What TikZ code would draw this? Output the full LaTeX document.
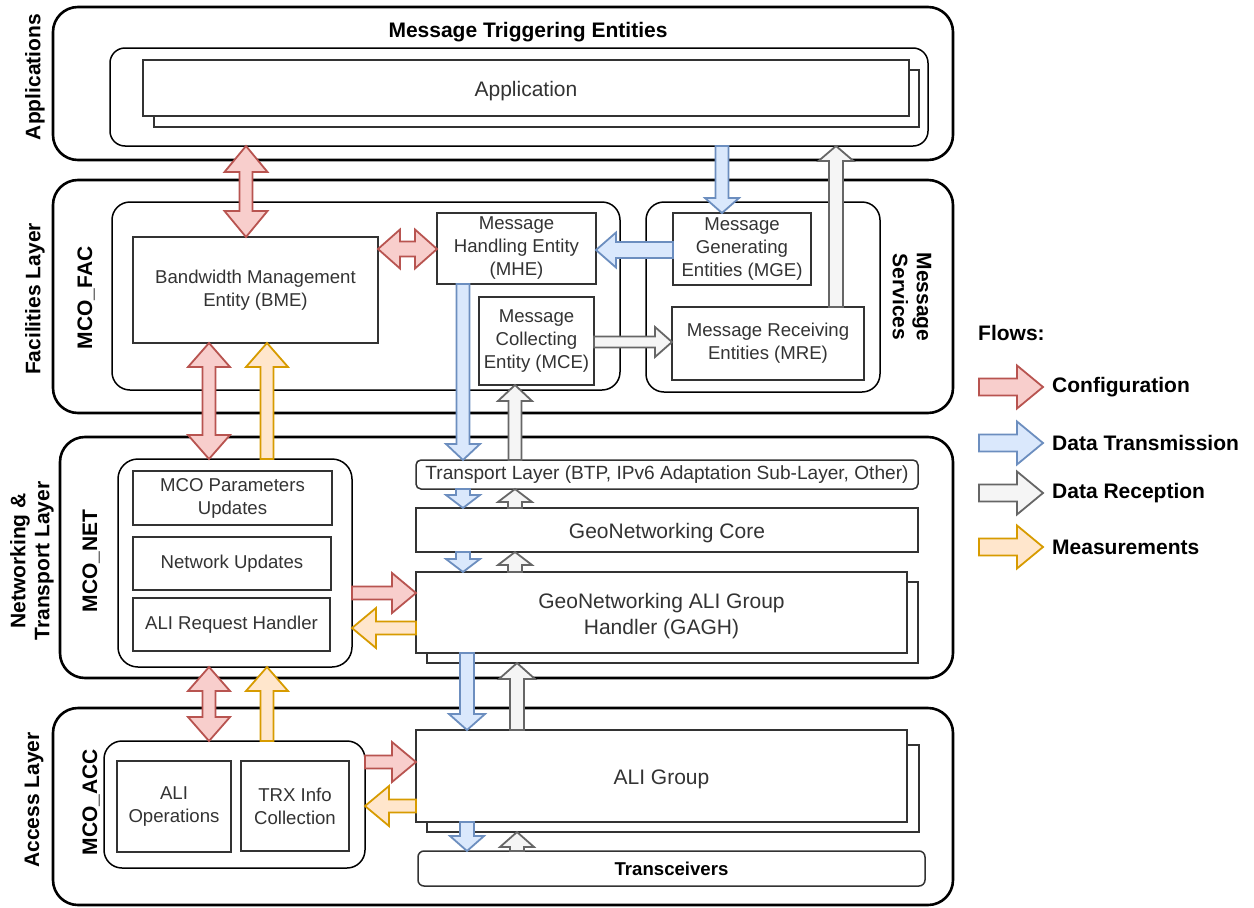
\documentclass[tikz,border=0pt]{standalone}
\usepackage{fontspec}
\setmainfont{Liberation Sans}
\usetikzlibrary{calc}
\definecolor{redF}{HTML}{F8CECC}\definecolor{redS}{HTML}{B85450}
\definecolor{bluF}{HTML}{DAE8FC}\definecolor{bluS}{HTML}{6C8EBF}
\definecolor{gryF}{HTML}{F5F5F5}\definecolor{gryS}{HTML}{666666}
\definecolor{orgF}{HTML}{FFE6CC}\definecolor{orgS}{HTML}{D79B00}
\definecolor{txt}{HTML}{333333}
\newcommand\fnorm{\fontsize{18.6}{23}\selectfont}
\newcommand\flarge{\fontsize{21}{26}\selectfont}
\newcommand\fbold{\fontsize{21}{24}\selectfont\bfseries}
\newcommand\farrow[6]{%
  \coordinate (fS) at (#2);
  \coordinate (fE) at (#3);
  \coordinate (fB) at ($(fE)!#6pt!(fS)$);
  \filldraw[flow,#1] ($(fS)!#4pt!90:(fE)$) -- ($(fB)!#4pt!90:(fE)$) -- ($(fB)!#5pt!90:(fE)$) -- (fE) -- ($(fB)!#5pt!-90:(fE)$) -- ($(fB)!#4pt!-90:(fE)$) -- ($(fS)!#4pt!-90:(fE)$) -- cycle;
}
\newcommand\dfarrow[6]{%
  \coordinate (fS) at (#2);
  \coordinate (fE) at (#3);
  \coordinate (fA) at ($(fS)!#6pt!(fE)$);
  \coordinate (fB) at ($(fE)!#6pt!(fS)$);
  \filldraw[flow,#1] (fS) -- ($(fA)!#5pt!90:(fE)$) -- ($(fA)!#4pt!90:(fE)$) -- ($(fB)!#4pt!90:(fE)$) -- ($(fB)!#5pt!90:(fE)$) -- (fE) -- ($(fB)!#5pt!-90:(fE)$) -- ($(fB)!#4pt!-90:(fE)$) -- ($(fA)!#4pt!-90:(fE)$) -- ($(fA)!#5pt!-90:(fE)$) -- cycle;
}
\begin{document}
\begin{tikzpicture}[x=1pt,y=-1pt,
  layer/.style={draw=black, line width=2.6pt, rounded corners=25pt, anchor=north west, inner sep=0pt, outer sep=0pt},
  grp/.style={draw=black, line width=1.5pt, rounded corners=18pt, anchor=north west, inner sep=0pt, outer sep=0pt},
  ent/.style={draw=txt, line width=1.5pt, fill=white, anchor=north west, inner sep=0pt, outer sep=0pt, text=txt, font=\fnorm, align=center},
  big/.style={ent, font=\flarge},
  low/.style={text height=18pt, text depth=1pt},
  lbl/.style={font=\fbold, text=black, align=center, inner sep=0pt},
  flow/.style={line width=1.8pt, line join=miter},
  cfg/.style={fill=redF, draw=redS},
  dtx/.style={fill=bluF, draw=bluS},
  drx/.style={fill=gryF, draw=gryS},
  mea/.style={fill=orgF, draw=orgS}]
\useasboundingbox (0,0) rectangle (1254,908);
\fill[white] (0,0) rectangle (1254,908);

% ---------- Applications layer
\node[layer, minimum width=900pt, minimum height=153pt] (appL) at (53,7) {};
\node[lbl, rotate=90] (tApp) at (35,77) {Applications};
\node[lbl] (tMTE) at (528,32) {Message Triggering Entities};
\node[grp, rounded corners=15pt, minimum width=818pt, minimum height=98pt] (appG) at (110,48) {};
\node[ent, minimum width=765pt, minimum height=57pt] (appBack) at (154,70) {};
\node[big, low, minimum width=766pt, minimum height=56pt] (app) at (143,60) {Application};

% ---------- Facilities layer
\node[layer, minimum width=900pt, minimum height=233pt] (facL) at (53,180) {};
\node[lbl, rotate=90] (tFac) at (35,299) {Facilities Layer};
\node[lbl, rotate=90] (tMcoFac) at (86,298) {MCO\_FAC};
\node[grp, minimum width=508pt, minimum height=188pt] (facG) at (112,202) {};
\node[ent, minimum width=245pt, minimum height=106pt] (BME) at (133,237) {Bandwidth Management\\Entity (BME)};
\node[ent, minimum width=159pt, minimum height=71pt] (MHE) at (437,213) {Message\\Handling Entity\\(MHE)};
\node[ent, minimum width=115pt, minimum height=88pt] (MCE) at (479,297) {Message\\Collecting\\Entity (MCE)};
\node[grp, minimum width=234pt, minimum height=190pt] (msG) at (646,202) {};
\node[ent, minimum width=138pt, minimum height=72pt] (MGE) at (673,213) {Message\\Generating\\Entities (MGE)};
\node[ent, minimum width=192pt, minimum height=73pt] (MRE) at (672,307) {Message Receiving\\Entities (MRE)};
\node[lbl, rotate=-90] (tMS) at (912,297) {Message\\Services};

% ---------- Networking layer
\node[layer, minimum width=893pt, minimum height=241pt] (netL) at (60,437) {};
\node[lbl, rotate=90] (tNet) at (32,561) {Networking \&\\Transport Layer};
\node[lbl, rotate=90] (tMcoNet) at (91,561) {MCO\_NET};
\node[grp, rounded corners=20pt, minimum width=234pt, minimum height=208pt] (netG) at (118,459) {};
\node[ent, minimum width=199pt, minimum height=54pt] (mcop) at (133,471) {MCO Parameters\\Updates};
\node[ent, minimum width=198pt, minimum height=53pt] (nupd) at (133,537) {Network Updates};
\node[ent, minimum width=197pt, minimum height=53pt] (alireq) at (133,598) {ALI Request Handler};
\node[ent, rounded corners=5pt, minimum width=502pt, minimum height=29pt, font=\fontsize{19.1}{23}\selectfont] (trl) at (416,460) {Transport Layer (BTP, IPv6 Adaptation Sub-Layer, Other)};
\node[big, low, minimum width=502pt, minimum height=44pt] (gnc) at (416,508) {GeoNetworking Core};
\node[ent, minimum width=491pt, minimum height=81pt] (gaghBack) at (427,582) {};
\node[big, minimum width=491pt, minimum height=81pt] (gagh) at (416,572) {\rule{0pt}{22pt}GeoNetworking ALI Group\\Handler (GAGH)};

% ---------- Access layer
\node[layer, minimum width=900pt, minimum height=197pt] (accL) at (53,708) {};
\node[lbl, rotate=90] (tAcc) at (34,800) {Access Layer};
\node[lbl, rotate=90] (tMcoAcc) at (91,802) {MCO\_ACC};
\node[grp, minimum width=261pt, minimum height=127pt] (accG) at (104,741) {};
\node[ent, minimum width=114pt, minimum height=91pt] (aliop) at (117,761) {ALI\\Operations};
\node[ent, minimum width=108pt, minimum height=90pt] (trx) at (241,761) {TRX Info\\Collection};
\node[ent, minimum width=492pt, minimum height=87pt] (aliBack) at (427,745) {};
\node[big, low, minimum width=491pt, minimum height=92pt] (ali) at (416,730) {ALI Group};
\node[ent, rounded corners=6pt, minimum width=507pt, minimum height=35pt, font=\fnorm\bfseries, text=black] (trcv) at (418,851) {Transceivers};

% ---------- guide coordinates
\coordinate (xr1) at (246,0);
\coordinate (xb0) at (722,0);
\coordinate (xg0) at (836,0);
\coordinate (yr1) at (0,249);
\coordinate (yb1) at (0,250);
\coordinate (yg1) at (0,342);
\coordinate (xb1) at (463,0);
\coordinate (xg1) at (515,0);
\coordinate (xr2) at (209,0);
\coordinate (xo2) at (267,0);
\coordinate (yr3) at (0,593);
\coordinate (yo3) at (0,628);
\coordinate (xb2) at (467,0);
\coordinate (xg2) at (517,0);
\coordinate (yr4) at (0,762);
\coordinate (yo4) at (0,806);

% ---------- flows
\dfarrow{cfg}{appG.south -| xr1}{BME.north -| xr1}{6.5}{21.5}{26}
\farrow{dtx}{appG.south -| xb0}{MGE.north -| xb0}{6.5}{17}{15}
\farrow{drx}{MRE.north -| xg0}{appG.south -| xg0}{7}{17.5}{15}
\dfarrow{cfg}{BME.east |- yr1}{MHE.west |- yr1}{7.5}{19.5}{22}
\farrow{dtx}{MGE.west |- yb1}{MHE.east |- yb1}{8}{17.5}{20}
\farrow{drx}{MCE.east |- yg1}{MRE.west |- yg1}{5.5}{15}{17}
\farrow{dtx}{MHE.south -| xb1}{trl.north -| xb1}{6.5}{17}{16}
\farrow{drx}{trl.north -| xg1}{MCE.south -| xg1}{6.5}{17}{16}
\farrow{dtx}{trl.south -| xb1}{gnc.north -| xb1}{7}{17}{13}
\farrow{drx}{gnc.north -| xg1}{trl.south -| xg1}{7}{17}{13}
\farrow{dtx}{gnc.south -| xb1}{gagh.north -| xb1}{7}{17}{13}
\farrow{drx}{gagh.north -| xg1}{gnc.south -| xg1}{7}{17}{13}
\dfarrow{cfg}{BME.south -| xr2}{netG.north -| xr2}{6.5}{21}{24}
\farrow{mea}{netG.north -| xo2}{BME.south -| xo2}{6.5}{21}{24}
\farrow{cfg}{netG.east |- yr3}{gagh.west |- yr3}{6.5}{20}{24}
\farrow{mea}{gagh.west |- yo3}{netG.east |- yo3}{6.5}{20}{24}
\farrow{dtx}{gagh.south -| xb2}{ali.north -| xb2}{7}{18}{16}
\farrow{drx}{ali.north -| xg2}{gaghBack.south -| xg2}{7}{18}{16}
\dfarrow{cfg}{netG.south -| xr2}{accG.north -| xr2}{6.5}{21}{24}
\farrow{mea}{accG.north -| xo2}{netG.south -| xo2}{6.5}{21}{24}
\farrow{cfg}{accG.east |- yr4}{ali.west |- yr4}{6.5}{20}{24}
\farrow{mea}{ali.west |- yo4}{accG.east |- yo4}{6.5}{20}{24}
\farrow{dtx}{ali.south -| xb2}{trcv.north -| xb2}{7}{17}{15}
\farrow{drx}{trcv.north -| xg2}{aliBack.south -| xg2}{7}{17}{15}

% ---------- legend
\node[lbl, anchor=west] (tFlows) at (978,333) {Flows:};
\coordinate (l1s) at (979,387); \coordinate (l1e) at (1043,387);
\coordinate (l2s) at (979,443); \coordinate (l2e) at (1043,443);
\coordinate (l3s) at (979,493); \coordinate (l3e) at (1043,493);
\coordinate (l4s) at (979,547); \coordinate (l4e) at (1043,547);
\farrow{cfg}{l1s}{l1e}{8.5}{21.5}{26}
\farrow{dtx}{l2s}{l2e}{8.5}{21.5}{26}
\farrow{drx}{l3s}{l3e}{8.5}{21.5}{26}
\farrow{mea}{l4s}{l4e}{8.5}{21.5}{26}
\node[lbl, anchor=west] (tCfg) at (1052,387) {Configuration};
\node[lbl, anchor=west] (tDtx) at (1052,443) {Data Transmission};
\node[lbl, anchor=west] (tDrx) at (1052,493) {Data Reception};
\node[lbl, anchor=west] (tMea) at (1052,547) {Measurements};
\end{tikzpicture}
\end{document}
